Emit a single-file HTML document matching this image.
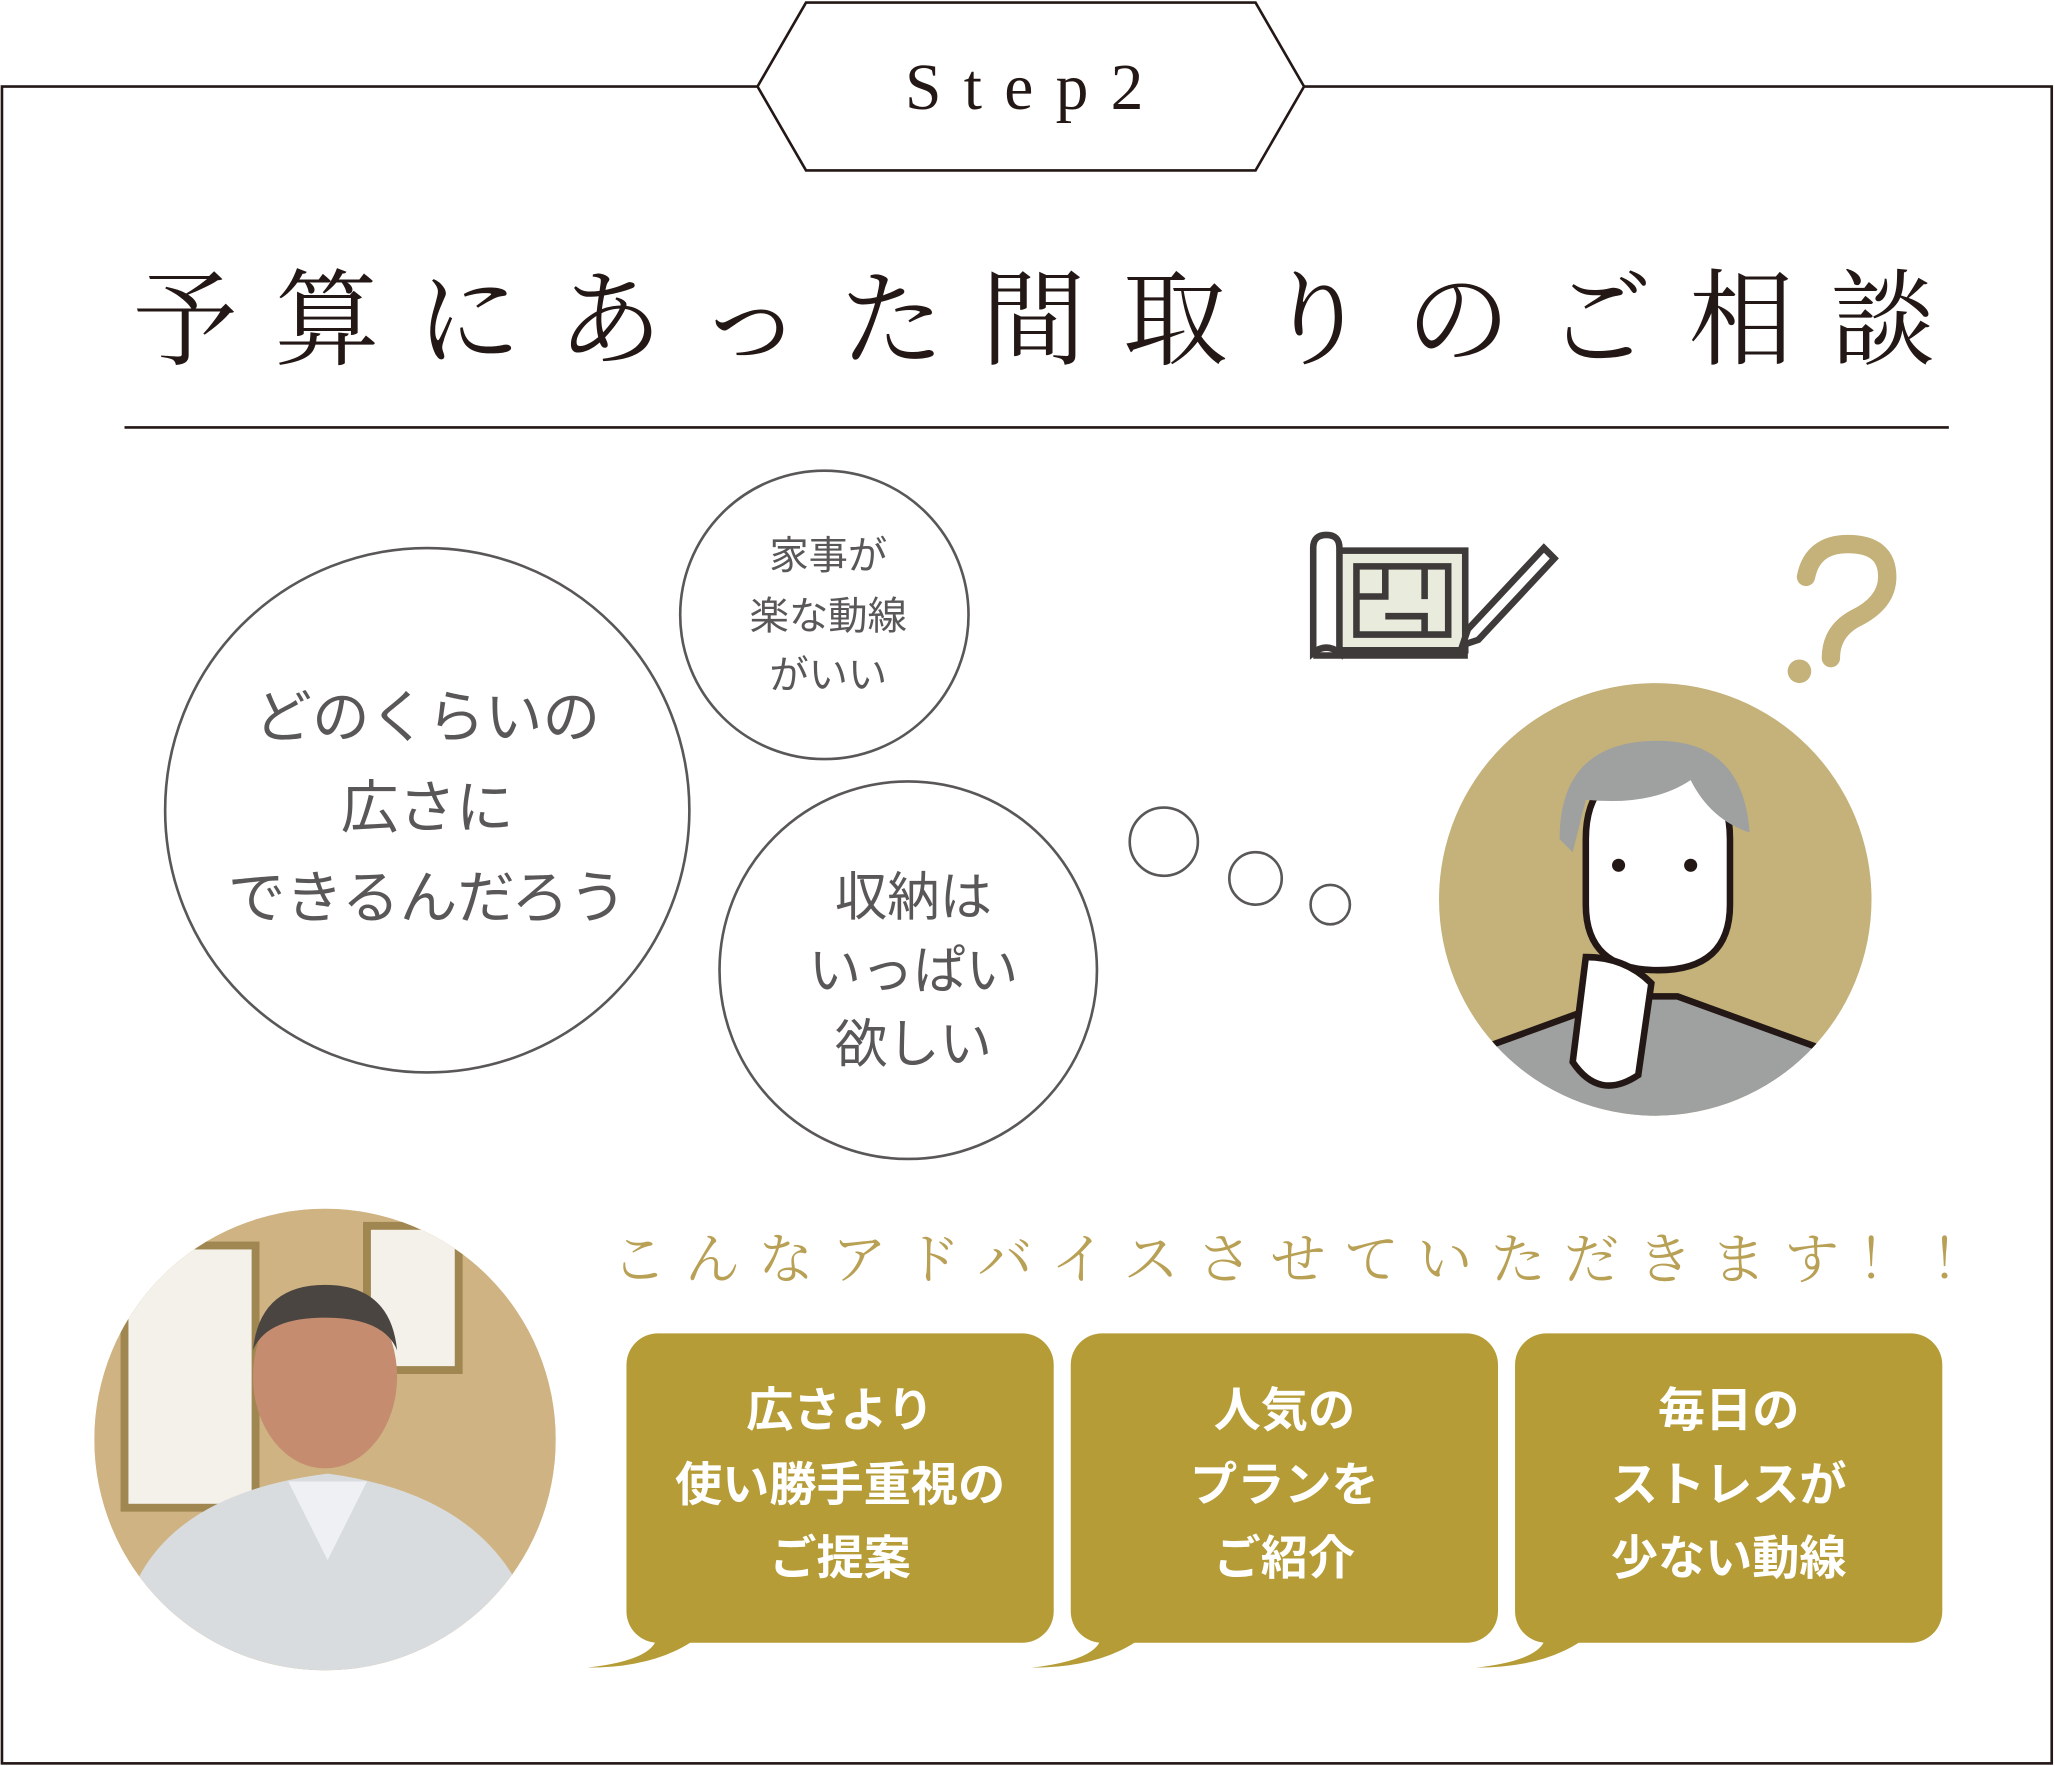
<!DOCTYPE html>
<html><head><meta charset="utf-8"><style>
html,body{margin:0;padding:0;background:#fff;}
svg{display:block;}
.serif{font-family:"Liberation Serif","Noto Serif CJK SC",serif;}
.sans{font-family:"Liberation Sans","Noto Sans CJK JP",sans-serif;}
</style></head><body>
<svg width="2055" height="1766" viewBox="0 0 1568 1347" preserveAspectRatio="none" xmlns="http://www.w3.org/2000/svg">
<rect x="0" y="0" width="1568" height="1347" fill="#fff"/>
<rect x="1.5" y="66" width="1564" height="1279" fill="none" stroke="#231815" stroke-width="2"/>
<polygon points="578,66 615,2 958,2 995,66 958,130 615,130" fill="#fff" stroke="#231815" stroke-width="2"/>
<text x="790" y="83" text-anchor="middle" class="serif" font-size="50" letter-spacing="17" fill="#231815">Step2</text>
<text x="803" y="272" text-anchor="middle" class="serif" font-size="80" letter-spacing="28" fill="#231815">予算にあった間取りのご相談</text>
<line x1="95" y1="326" x2="1487" y2="326" stroke="#231815" stroke-width="2"/>

<g fill="none" stroke="#595757" stroke-width="2">
<circle cx="326" cy="618" r="200"/>
<circle cx="629" cy="469" r="110"/>
<circle cx="693" cy="740" r="144"/>
<circle cx="888" cy="642" r="26"/>
<circle cx="958" cy="670" r="20"/>
<circle cx="1015" cy="690" r="15"/>
</g>
<g class="sans" fill="#595757" text-anchor="middle">
<text x="326" y="562" font-size="44">どのくらいの</text>
<text x="326" y="631" font-size="44">広さに</text>
<text x="326" y="700" font-size="44">できるんだろう</text>
<text x="632" y="434" font-size="30">家事が</text>
<text x="632" y="480" font-size="30">楽な動線</text>
<text x="632" y="525" font-size="30">がいい</text>
<text x="697" y="698" font-size="40">収納は</text>
<text x="697" y="754" font-size="40">いっぱい</text>
<text x="697" y="810" font-size="40">欲しい</text>
</g>

<g stroke="#3e3a39" stroke-width="5" fill="none">
<rect x="1020" y="420" width="98" height="76" fill="#e9ebdc"/>
<path d="M1002 418 q0-10 10-10 q10 0 10 10 v80 q-10 -8 -20 0 z" fill="#fff"/>
<path d="M1002 500 h118"/>
<path d="M1035 432 v52 h70 v-52 z M1035 455 h22 v-23 M1057 470 h30 v14 M1087 432 v25"/>
<path d="M1120 480 l58 -62 l8 8 l-58 62 l-12 4 z" fill="#fff"/>
</g>
<path d="M1378 440 q5 -25 32 -25 q30 0 30 25 q0 20 -25 32 q-18 10 -18 30" fill="none" stroke="#c4b27a" stroke-width="14" stroke-linecap="round"/>
<circle cx="1373" cy="512" r="9" fill="#c4b27a"/>

<defs><clipPath id="pc"><circle cx="1263" cy="686" r="165"/></clipPath>
<clipPath id="ph"><circle cx="248" cy="1098" r="176"/></clipPath></defs>
<circle cx="1263" cy="686" r="165" fill="#c4b27a"/>
<g clip-path="url(#pc)" stroke="#231815" stroke-width="5">
<path d="M1130 800 l110 -40 l40 0 l110 40 l0 100 l-260 0 z" fill="#9fa0a0"/>
<path d="M1210 640 q0 -55 55 -55 q55 0 55 55 v50 q0 50 -55 50 q-55 0 -55 -50 z" fill="#fff"/>
<path d="M1190 640 q0 -75 75 -75 q65 0 70 70 q-30 -10 -45 -40 q-30 20 -80 15 l-10 40 z" fill="#9fa0a0" stroke="none"/>
<path d="M1210 730 q30 0 50 20 l-10 70 q-30 20 -50 -10 z" fill="#fff"/>
</g>
<circle cx="1235" cy="660" r="5" fill="#231815"/><circle cx="1290" cy="660" r="5" fill="#231815"/>

<circle cx="248" cy="1098" r="176" fill="#d8c49a"/>
<g clip-path="url(#ph)">
<rect x="72" y="922" width="352" height="352" fill="#cfb383"/>
<rect x="95" y="950" width="100" height="200" fill="#f3f1ea" stroke="#a08650" stroke-width="6"/>
<rect x="280" y="935" width="70" height="110" fill="#f3f1ea" stroke="#a08650" stroke-width="6"/>
<path d="M90 1274 q0 -130 160 -150 q150 20 165 150 z" fill="#d9dcde"/>
<path d="M220 1130 l30 60 l30 -60 z" fill="#eef0f4"/>
<ellipse cx="248" cy="1050" rx="55" ry="70" fill="#c58c70"/>
<path d="M193 1030 q5 -50 55 -50 q50 0 55 50 q-10 -25 -55 -25 q-45 0 -55 25z" fill="#4a4540"/>
</g>

<text x="998" y="975" text-anchor="middle" class="serif" font-size="42" letter-spacing="14" fill="#b8a055">こんなアドバイスさせていただきます！！</text>

<g fill="#b59c36">
<rect x="478" y="1017" width="326" height="236" rx="24"/>
<path d="M500 1240 q10 25 -52 32 q50 0 80 -20 z"/>
<rect x="817" y="1017" width="326" height="236" rx="24"/>
<path d="M839 1240 q10 25 -52 32 q50 0 80 -20 z"/>
<rect x="1156" y="1017" width="326" height="236" rx="24"/>
<path d="M1178 1240 q10 25 -52 32 q50 0 80 -20 z"/>
</g>
<g class="sans" fill="#fff" font-weight="bold" font-size="36" text-anchor="middle">
<text x="641" y="1088">広さより</text>
<text x="641" y="1145">使い勝手重視の</text>
<text x="641" y="1201">ご提案</text>
<text x="980" y="1088">人気の</text>
<text x="980" y="1145">プランを</text>
<text x="980" y="1201">ご紹介</text>
<text x="1319" y="1088">毎日の</text>
<text x="1319" y="1145">ストレスが</text>
<text x="1319" y="1201">少ない動線</text>
</g>
</svg>
</body></html>
